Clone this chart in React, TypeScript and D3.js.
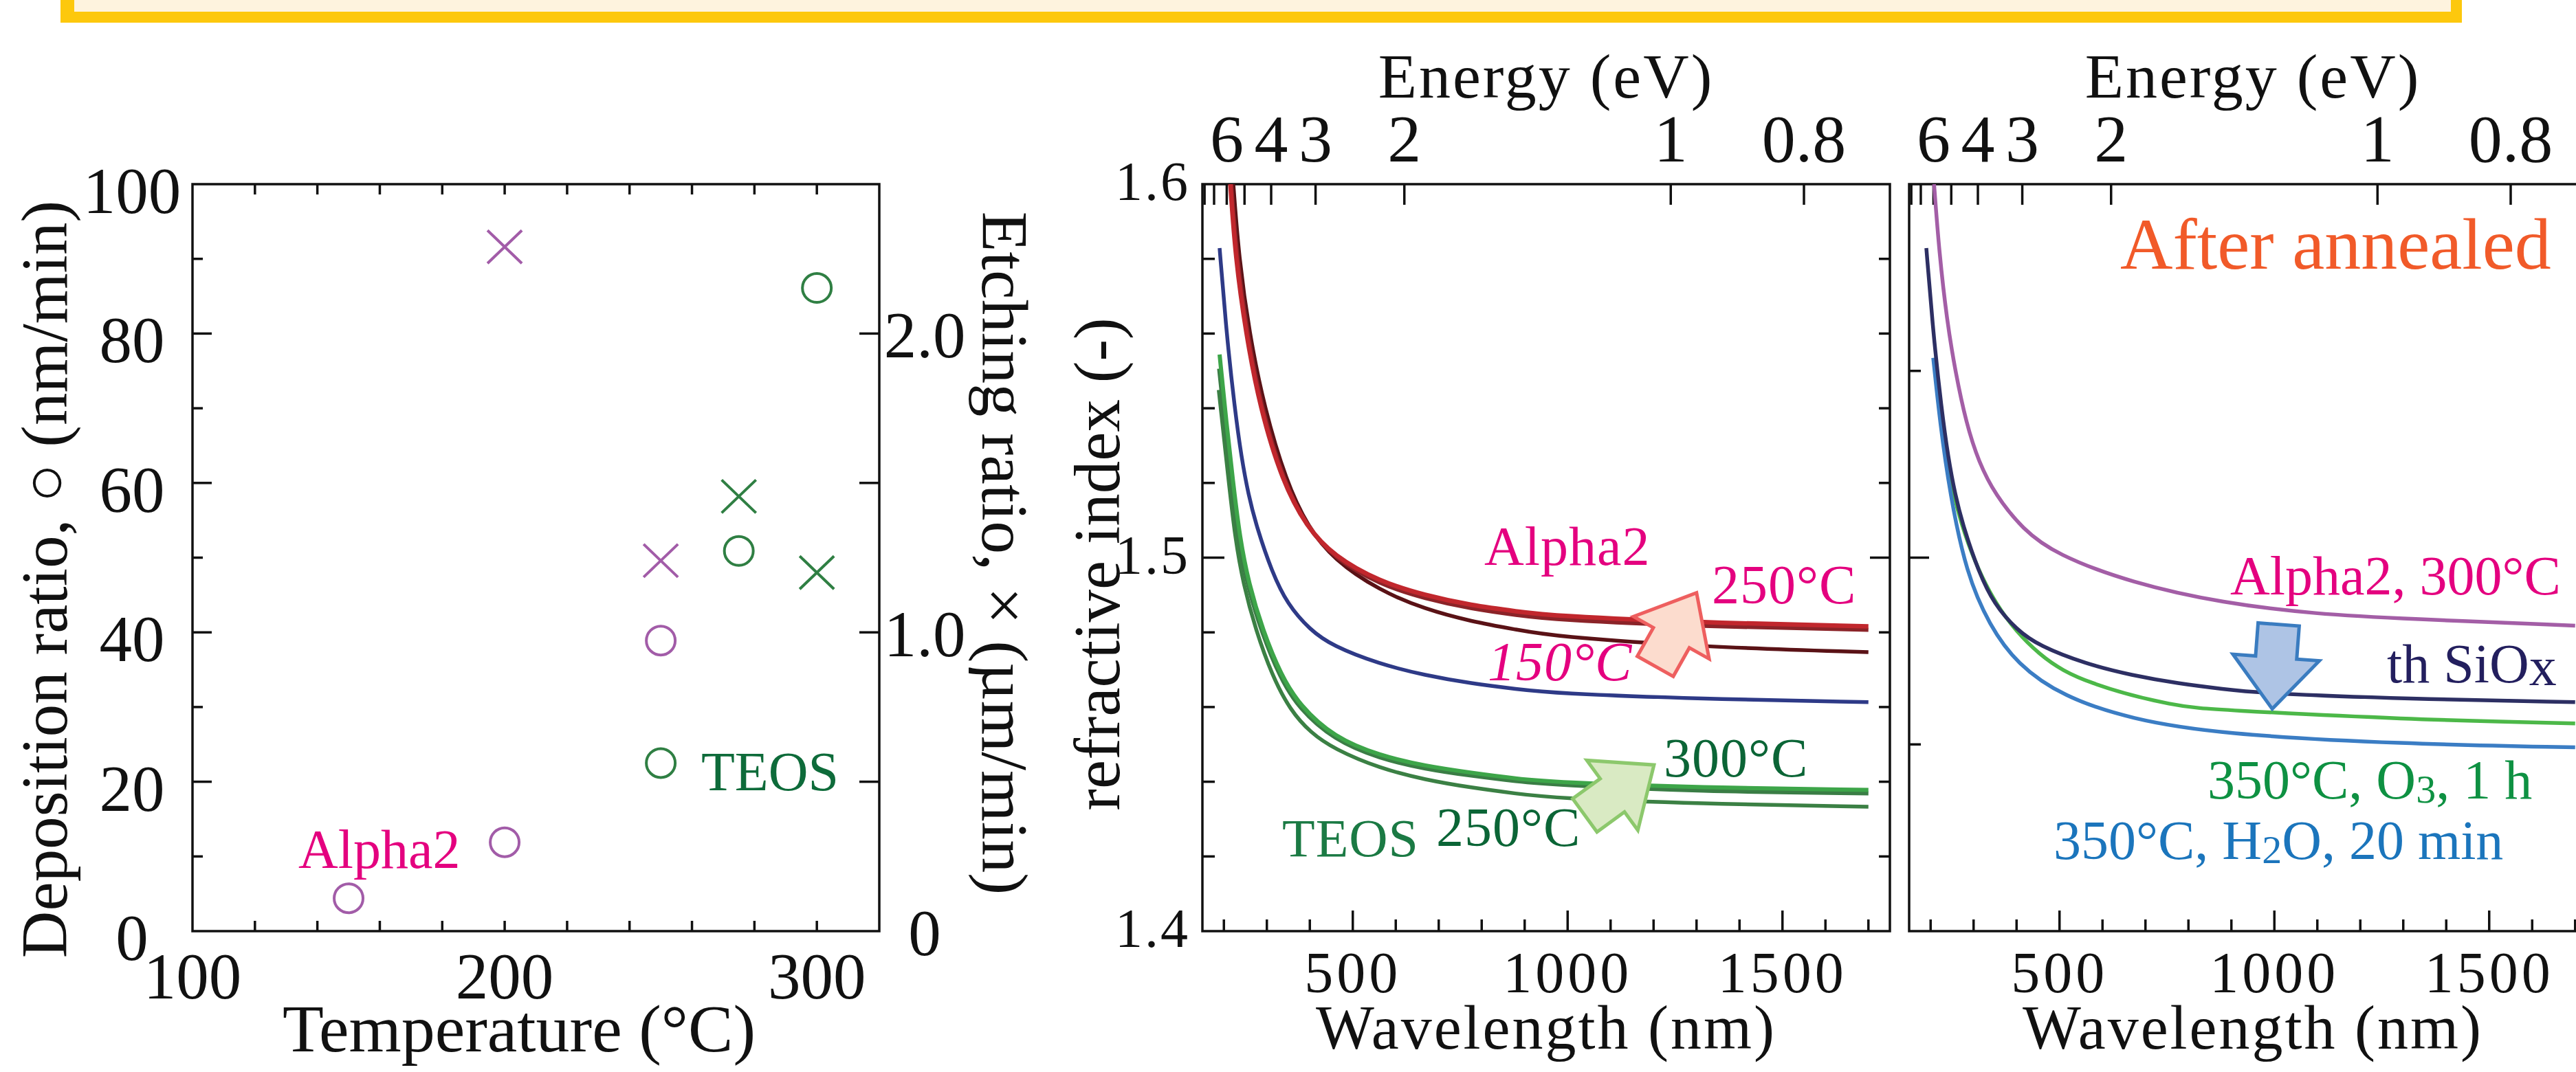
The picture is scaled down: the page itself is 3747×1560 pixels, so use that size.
import { useEffect, useRef } from "react";
import * as d3 from "d3";

const W = 3747;
const H = 1560;
const FONT = "'Liberation Serif', 'Times New Roman', serif";

// ---- left panel: deposition (○, nm/min) and etching (×, µm/min) vs temperature
const alphaDepT = [150, 200, 250];
const alphaDep = [4.4, 11.9, 38.9];
const teosDepT = [250, 275, 300];
const teosDep = [22.5, 50.9, 86.1];
const alphaEtchT = [200, 250];
const alphaEtch = [2.29, 1.24];
const teosEtchT = [275, 300];
const teosEtch = [1.455, 1.2];

const tempLabels = [100, 200, 300];
const depLabels = [0, 20, 40, 60, 80, 100];
const etchLabels = [0, 1, 2];

// ---- refractive index spectra: [wavelength nm, n]
const alpha250 = [[215, 1.6], [227, 1.5803], [251, 1.5602], [284, 1.5401], [336, 1.5204], [392, 1.5083], [456, 1.5004], [562, 1.4936], [668, 1.4899], [776, 1.4872], [882, 1.4856], [968, 1.4844], [1308, 1.4826], [1700, 1.4816]];
const alpha200 = [[217, 1.6], [230, 1.5803], [254, 1.5602], [287, 1.5401], [339, 1.5204], [394, 1.508], [457, 1.4998], [563, 1.4928], [669, 1.489], [777, 1.4863], [883, 1.4846], [969, 1.4834], [1308, 1.4816], [1700, 1.4807]];
const alpha150 = [[222, 1.6], [235, 1.5803], [259, 1.5602], [294, 1.5401], [345, 1.5204], [395, 1.5083], [456, 1.4994], [562, 1.4912], [668, 1.4862], [776, 1.4829], [882, 1.4807], [968, 1.4789], [1308, 1.4761], [1700, 1.4747]];
const thSiO2 = [[190, 1.5829], [206, 1.5602], [225, 1.5401], [241, 1.5267], [257, 1.5169], [276, 1.5083], [312, 1.4961], [348, 1.4875], [400, 1.4807], [452, 1.4764], [562, 1.4715], [668, 1.4685], [776, 1.4663], [882, 1.4648], [968, 1.4637], [1308, 1.4622], [1700, 1.4613]];
const teos300 = [[190, 1.5544], [206, 1.5359], [221, 1.5206], [237, 1.5053], [258, 1.493], [290, 1.4807], [333, 1.4685], [376, 1.4605], [456, 1.4519], [562, 1.447], [669, 1.4442], [776, 1.4424], [882, 1.4408], [968, 1.4399], [1308, 1.4384], [1700, 1.4378]];
const teos300b = [[189, 1.5506], [205, 1.533], [219, 1.519], [235, 1.504], [256, 1.492], [288, 1.48], [331, 1.4678], [374, 1.4597], [456, 1.4512], [562, 1.4462], [669, 1.4434], [776, 1.4416], [882, 1.4401], [968, 1.4392], [1308, 1.4374], [1700, 1.4369]];
const teos250 = [[188, 1.5449], [211, 1.5206], [226, 1.5053], [245, 1.493], [274, 1.4807], [312, 1.4685], [354, 1.4592], [402, 1.4531], [456, 1.4488], [562, 1.4436], [669, 1.4405], [776, 1.4384], [882, 1.4368], [968, 1.4356], [1308, 1.4341], [1700, 1.4333]];

// after annealing
const alpha300 = [[208, 1.6], [220, 1.5817], [238, 1.5635], [257, 1.5501], [283, 1.5359], [312, 1.5256], [350, 1.5169], [415, 1.5075], [491, 1.5009], [668, 1.4932], [881, 1.4878], [1096, 1.4849], [1308, 1.4836], [1700, 1.4818]];
const o3Anneal = [[213, 1.548], [228, 1.533], [252, 1.5169], [283, 1.5044], [347, 1.4871], [454, 1.4731], [561, 1.4663], [774, 1.46], [870, 1.4593], [1297, 1.4567], [1700, 1.4556]];
const h2oAnneal = [[206, 1.5535], [222, 1.536], [245, 1.517], [283, 1.4958], [337, 1.4818], [401, 1.4715], [507, 1.4628], [668, 1.4567], [870, 1.4528], [1297, 1.4501], [1700, 1.4492]];

const energyTicks = [8, 7, 6, 5, 4, 3, 2, 1, 0.8];
const energyLabels = [6, 4, 3, 2, 1, 0.8];
const wlLabels = [500, 1000, 1500];
const nLabels = [1.4, 1.5, 1.6];

type Sel = d3.Selection<any, unknown, null, undefined>;

function text(g: Sel, x: number, y: number, s: string, size: number, opts: any = {}) {
  const t = g
    .append("text")
    .attr("x", x)
    .attr("y", y)
    .attr("font-family", FONT)
    .attr("font-size", size)
    .attr("fill", opts.fill || "#111")
    .attr("text-anchor", opts.anchor || "start")
    .text(s);
  if(opts.spacing) t.attr("letter-spacing", opts.spacing);
  if(opts.italic) t.attr("font-style", "italic");
  if(opts.rotate) t.attr("transform", `rotate(${opts.rotate},${x},${y})`);
  return t;
}

function tick(g: Sel, x1: number, y1: number, x2: number, y2: number) {
  g.append("line")
    .attr("x1", x1).attr("y1", y1).attr("x2", x2).attr("y2", y2)
    .attr("stroke", "#111").attr("stroke-width", 3.5);
}

function arrowPoints(t: number[], h: number[]) {
  const dx = h[0] - t[0];
  const dy = h[1] - t[1];
  const L = Math.hypot(dx, dy);
  const ux = dx / L, uy = dy / L;
  const px = -uy, py = ux;
  const hl = 75, hh = 63, sh = 30;
  const bx = h[0] - ux * hl, by = h[1] - uy * hl;
  return [
    [h[0], h[1]],
    [bx + px * hh, by + py * hh],
    [bx + px * sh, by + py * sh],
    [t[0] + px * sh, t[1] + py * sh],
    [t[0] - px * sh, t[1] - py * sh],
    [bx - px * sh, by - py * sh],
    [bx - px * hh, by - py * hh],
  ];
}

export default function App() {
  const ref = useRef<SVGSVGElement | null>(null);

  useEffect(() => {
    const el = ref.current;
    if(!el) return;
    const svg = d3.select(el);
    svg.selectAll("*").remove();

    // banner at the top
    svg.append("rect").attr("x", 88).attr("y", -40).attr("width", 3493).attr("height", 73).attr("fill", "#fdc80d");
    svg.append("rect").attr("x", 108).attr("y", -40).attr("width", 3457).attr("height", 57).attr("fill", "#fef3de");

    // ================= left panel
    const xT = d3.scaleLinear().domain([100, 320]).range([280, 1279]);
    const yDep = d3.scaleLinear().domain([0, 100]).range([1355, 268]);
    const yEtch = d3.scaleLinear().domain([0, 2.5]).range([1355, 268]);
    const gl = svg.append("g");

    gl.append("rect")
      .attr("x", xT(100)).attr("y", yDep(100))
      .attr("width", xT(320) - xT(100)).attr("height", yDep(0) - yDep(100))
      .attr("fill", "none").attr("stroke", "#111").attr("stroke-width", 3.5);

    d3.range(120, 320, 20).forEach((v) => {
      tick(gl, xT(v), yDep(0), xT(v), yDep(0) - 15);
      tick(gl, xT(v), yDep(100), xT(v), yDep(100) + 15);
    });
    d3.range(10, 100, 10).forEach((v) => {
      tick(gl, xT(100), yDep(v), xT(100) + (v % 20 === 0 ? 28 : 15), yDep(v));
    });
    [0.5, 1, 1.5, 2].forEach((v) => tick(gl, xT(320), yEtch(v), xT(320) - 29, yEtch(v)));

    depLabels.forEach((v) => text(gl, 192, yDep(v) + 42, String(v), 95, {anchor: "middle"}));
    tempLabels.forEach((v) => text(gl, xT(v), 1453, String(v), 95, {anchor: "middle"}));
    etchLabels.forEach((v) => text(gl, 1345, yEtch(v) + 35, v === 0 ? "0" : v.toFixed(1), 95, {anchor: "middle"}));

    text(gl, 755, 1530, "Temperature (°C)", 98, {anchor: "middle"});
    text(gl, 97, 843, "Deposition ratio, ○ (nm/min)", 95, {anchor: "middle", rotate: -90});
    text(gl, 1429, 805, "Etching ratio, × (µm/min)", 96, {anchor: "middle", rotate: 90});

    const purple = "#a25ca8";
    const green = "#2f7f43";
    const circles = (ts: number[], vs: number[], c: string) =>
      ts.forEach((t, i) =>
        gl.append("circle").attr("cx", xT(t)).attr("cy", yDep(vs[i])).attr("r", 21)
          .attr("fill", "none").attr("stroke", c).attr("stroke-width", 4)
      );
    const crosses = (ts: number[], vs: number[], c: string) =>
      ts.forEach((t, i) =>
        gl.append("path")
          .attr("transform", `translate(${xT(t)},${yEtch(vs[i])})`)
          .attr("d", "M-25,-24L25,24M-25,24L25,-24")
          .attr("fill", "none").attr("stroke", c).attr("stroke-width", 4)
      );
    circles(alphaDepT, alphaDep, purple);
    circles(teosDepT, teosDep, green);
    crosses(alphaEtchT, alphaEtch, purple);
    crosses(teosEtchT, teosEtch, green);

    text(gl, 434, 1263, "Alpha2", 80, {fill: "#e4007f"});
    text(gl, 1020, 1150, "TEOS", 80, {fill: "#0e6b3a"});

    // ================= spectra panels
    const yN = d3.scaleLinear().domain([1.4, 1.6]).range([1355, 268]);
    const xM = d3.scaleLinear().domain([150, 1750]).range([1749, 2749]);
    const xR = d3.scaleLinear().domain([150, 1750]).range([2777, 3777]);

    const drawPanel = (xs: d3.ScaleLinear<number, number>, id: string, isRight: boolean) => {
      const g = svg.append("g");
      const x0 = xs(150), x1 = xs(1750);
      const y0 = yN(1.6), y1 = yN(1.4);

      g.append("clipPath").attr("id", id).append("rect")
        .attr("x", x0).attr("y", y0).attr("width", x1 - x0).attr("height", y1 - y0);

      g.append("rect")
        .attr("x", x0).attr("y", y0).attr("width", x1 - x0).attr("height", y1 - y0)
        .attr("fill", "none").attr("stroke", "#111").attr("stroke-width", 3.5);

      // top energy axis
      energyTicks.forEach((e) => tick(g, xs(1240 / e), y0, xs(1240 / e), y0 + 30));
      energyLabels.forEach((e) => text(g, xs(1240 / e), 235, String(e), 98, {anchor: "middle"}));
      text(g, (x0 + x1) / 2, 142, "Energy (eV)", 92, {anchor: "middle", spacing: 3});

      // bottom wavelength axis
      d3.range(200, 1800, 100).forEach((v) =>
        tick(g, xs(v), y1, xs(v), y1 - (v % 500 === 0 ? 30 : 17))
      );
      wlLabels.forEach((v) => text(g, xs(v), 1444, String(v), 84, {anchor: "middle", spacing: 5}));
      text(g, (x0 + x1) / 2, 1526, "Wavelength (nm)", 90, {anchor: "middle", spacing: 3});

      if(!isRight) {
        d3.range(142, 160, 2).forEach((k) => {
          const v = k / 100;
          const major = k === 150;
          tick(g, x0, yN(v), x0 + (major ? 32 : 18), yN(v));
          tick(g, x1, yN(v), x1 - (major ? 29 : 16), yN(v));
        });
        nLabels.forEach((v) => text(g, 1731, yN(v) + 23, v.toFixed(1), 80, {anchor: "end", spacing: 3}));
        text(g, 1628, 821, "refractive index (-)", 95, {anchor: "middle", rotate: -90});
      } else {
        [1.45, 1.5, 1.55].forEach((v) => tick(g, x0, yN(v), x0 + (v === 1.5 ? 29 : 17), yN(v)));
      }

      const curves = g.append("g").attr("clip-path", `url(#${id})`);
      const line = d3.line<number[]>()
        .x((d) => xs(d[0]))
        .y((d) => yN(d[1]))
        .curve(d3.curveBasis);
      const draw = (data: number[][], color: string, w: number) =>
        curves.append("path").datum(data).attr("d", line)
          .attr("fill", "none").attr("stroke", color).attr("stroke-width", w)
          .attr("stroke-linecap", "butt");
      return {g, draw};
    };

    // before annealing
    const mid = drawPanel(xM, "clipMid", false);
    mid.draw(thSiO2, "#2e3a87", 5.5);
    mid.draw(teos250, "#3b8044", 5.5);
    mid.draw(teos300b, "#3a7d45", 6);
    mid.draw(teos300, "#3da549", 6);
    mid.draw(alpha150, "#5a1216", 5.5);
    mid.draw(alpha200, "#8b2328", 6);
    mid.draw(alpha250, "#c1272d", 6.5);

    const arrow = (g: Sel, xs: d3.ScaleLinear<number, number>, tail: number[], tip: number[], fill: string, stroke: string) => {
      const pts = arrowPoints([xs(tail[0]), yN(tail[1])], [xs(tip[0]), yN(tip[1])]);
      g.append("polygon")
        .attr("points", pts.map((p) => p.join(",")).join(" "))
        .attr("fill", fill).attr("stroke", stroke).attr("stroke-width", 5)
        .attr("stroke-linejoin", "miter");
    };
    arrow(mid.g, xM, [1204, 1.4709], [1300, 1.4906], "#fcdcce", "#ee5f5f");
    arrow(mid.g, xM, [1040, 1.431], [1201, 1.4445], "#d9eac3", "#8cc86c");

    const magenta = "#e4007f";
    text(mid.g, 2159, 822, "Alpha2", 80, {fill: magenta, spacing: 1});
    text(mid.g, 2490, 878, "250°C", 80, {fill: magenta, spacing: 1});
    text(mid.g, 2164, 990, "150°C", 80, {fill: magenta, italic: true, spacing: 1});
    text(mid.g, 2420, 1130, "300°C", 80, {fill: "#0b6536", spacing: 1});
    text(mid.g, 1865, 1246, "TEOS", 78, {fill: "#1b7a44", spacing: 1});
    text(mid.g, 2089, 1231, "250°C", 80, {fill: "#0b6536", spacing: 1});

    // after annealing
    const rt = drawPanel(xR, "clipRight", true);
    rt.draw(o3Anneal, "#4cb848", 5.5);
    rt.draw(h2oAnneal, "#3b7dc4", 5.5);
    rt.draw(thSiO2, "#2d2f63", 5.5);
    rt.draw(alpha300, "#a35ea6", 5.5);
    arrow(rt.g, xR, [1010, 1.4821], [995, 1.4595], "#aec4e5", "#3a7cc0");

    text(rt.g, 3084, 391, "After annealed", 106, {fill: "#f15a29"});
    text(rt.g, 3244, 865, "Alpha2, 300°C", 80, {fill: magenta});
    const si = text(rt.g, 3472, 993, "th SiO", 80, {fill: "#231f5e"});
    si.append("tspan").attr("dy", 4).text("x");
    const o3 = text(rt.g, 3211, 1162, "350°C, O", 80, {fill: "#0e9142"});
    o3.append("tspan").attr("font-size", 58).attr("dy", 6).text("3");
    o3.append("tspan").attr("dy", -6).text(", 1 h");
    const h2o = text(rt.g, 2987, 1250, "350°C, H", 80, {fill: "#1b75bc"});
    h2o.append("tspan").attr("font-size", 58).attr("dy", 6).text("2");
    h2o.append("tspan").attr("dy", -6).text("O, 20 min");
  }, []);

  return (
    <svg
      ref={ref}
      width={W}
      height={H}
      style={{position: "absolute", left: 0, top: 0, background: "#fff"}}
    />
  );
}
